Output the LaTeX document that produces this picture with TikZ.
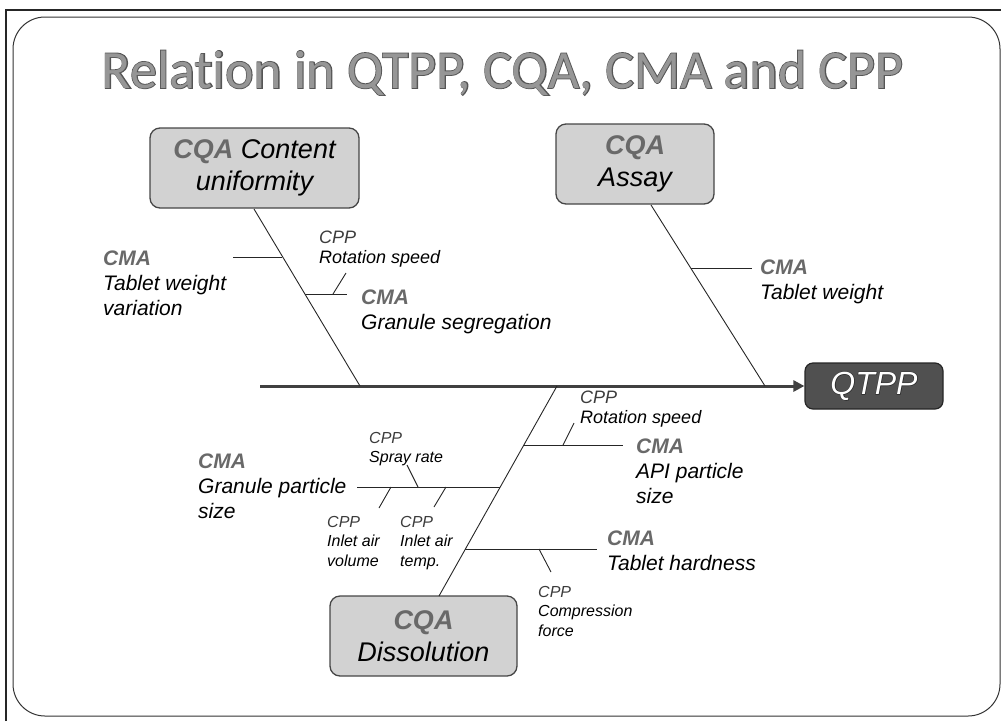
\documentclass[tikz,border=0pt]{standalone}
\usepackage{fontspec}
\setmainfont{Liberation Sans}
\newfontfamily\titlefont[Ligatures=NoCommon]{Carlito}
\newfontfamily\titleedge[Ligatures=NoCommon,FakeBold=3]{Carlito}
\newfontfamily\qtppedge[FakeBold=3]{Liberation Sans}
\usetikzlibrary{arrows.meta}

\definecolor{tagtext}{RGB}{105,105,105}
\definecolor{cpptext}{RGB}{60,60,60}
\definecolor{titlegray}{RGB}{150,150,150}
\definecolor{titleline}{RGB}{85,85,85}
\definecolor{boxfill}{RGB}{210,210,210}
\definecolor{boxedge}{RGB}{70,70,70}
\definecolor{qtppfill}{RGB}{80,80,80}

\newcommand{\cmatag}{{\bfseries\color{tagtext}CMA}}
\newcommand{\cqatag}{{\bfseries\color{tagtext}CQA}}
\newcommand{\cpptag}{{\color{cpptext}CPP}}

\tikzset{
  cmalbl/.style={anchor=north west, inner sep=0pt, align=left,
    font=\fontsize{21}{25}\selectfont\itshape},
  cppbig/.style={anchor=north west, inner sep=0pt, align=left,
    font=\fontsize{18}{20}\selectfont\itshape},
  cppsmall/.style={anchor=north west, inner sep=0pt, align=left,
    font=\fontsize{16}{19.5}\selectfont\itshape},
  cqabox/.style={draw=boxedge, line width=1.3pt, fill=boxfill,
    rounded corners=10pt, align=center, inner sep=0pt,
    font=\fontsize{27}{32}\selectfont\itshape},
  bone/.style={line width=0.9pt, black!85},
  spine/.style={line width=3pt, black!75,
    -{Triangle[length=11pt,width=11pt]}},
  titletext/.style={anchor=base, inner sep=0pt},
}

\begin{document}
\begin{tikzpicture}[x=1pt,y=-1pt]
\useasboundingbox (0,0) rectangle (1001,721);
\begin{scope}
\clip (0,0) rectangle (1001,721);
% slide frame
\draw[line width=2pt, black!85] (6,721) -- (6,10) -- (1001,10);
\draw[line width=1pt, black!80, rounded corners=32pt] (13,17) rectangle (1000,716);
\end{scope}

% title: a dark emboldened copy underneath gives the outlined letters
\node[titletext, text=titleline,
  font=\titleedge\fontsize{54}{60}\selectfont] (titleEdge) at (502.5,88)
  {Relation in QTPP, CQA, CMA and CPP};
\node[titletext, text=titlegray,
  font=\titlefont\fontsize{54}{60}\selectfont] (title) at (502.5,88)
  {Relation in QTPP, CQA, CMA and CPP};

% the four boxes
\node[cqabox, minimum width=209pt, minimum height=80pt] (cu) at (254.5,168)
  {\cqatag{} Content\\uniformity};
\node[cqabox, minimum width=158pt, minimum height=80pt] (assay) at (635,164)
  {\cqatag\\Assay};
\node[cqabox, minimum width=187pt, minimum height=80pt] (diss) at (423.5,636)
  {\cqatag\\Dissolution};
\node[draw=black!85, line width=1.2pt, fill=qtppfill, rounded corners=8pt,
  minimum width=138pt, minimum height=46pt, inner sep=0pt, text=black!85,
  font=\qtppedge\fontsize{32}{34}\selectfont\itshape] (qtpp) at (874,386) {QTPP};
\node[inner sep=0pt, text=white,
  font=\fontsize{32}{34}\selectfont\itshape] (qtppText) at (qtpp.center) {QTPP};

% spine
\coordinate (tail) at (260,386);
\draw[spine] (tail) -- (qtpp.west);

% main bones
\coordinate (cuTop) at (254,209);
\coordinate (cuFoot) at (360,386);
\coordinate (asTop) at (651,205);
\coordinate (asFoot) at (765,386);
\coordinate (dsFoot) at (557,386);
\coordinate (dsEnd) at (439,596);
\draw[bone] (cuTop) -- (cuFoot);
\draw[bone] (asTop) -- (asFoot);
\draw[bone] (dsFoot) -- (dsEnd);

% content uniformity branches
\coordinate (j1) at (282.3,257);
\coordinate (e1) at (233,257);
\draw[bone] (j1) -- (e1);
\coordinate (j2) at (304.6,294);
\coordinate (e2) at (347,294);
\draw[bone] (j2) -- (e2);
\coordinate (t2a) at (333,294);
\coordinate (t2b) at (346,273);
\draw[bone] (t2a) -- (t2b);

% assay branch
\coordinate (j3) at (691,268);
\coordinate (e3) at (752,268);
\draw[bone] (j3) -- (e3);

% dissolution branches
\coordinate (j4) at (523.8,445);
\coordinate (e4) at (623,445);
\draw[bone] (j4) -- (e4);
\coordinate (t4a) at (563,445);
\coordinate (t4b) at (574,423);
\draw[bone] (t4a) -- (t4b);

\coordinate (j5) at (500.2,487);
\coordinate (e5) at (357,487);
\draw[bone] (j5) -- (e5);
\coordinate (t5a) at (418,487);
\coordinate (t5b) at (407,465);
\draw[bone] (t5a) -- (t5b);
\coordinate (t6a) at (391,487);
\coordinate (t6b) at (379,508);
\draw[bone] (t6a) -- (t6b);
\coordinate (t7a) at (446,487);
\coordinate (t7b) at (434,507);
\draw[bone] (t7a) -- (t7b);

\coordinate (j8) at (465.4,549);
\coordinate (e8) at (597,549);
\draw[bone] (j8) -- (e8);
\coordinate (t8a) at (539,549);
\coordinate (t8b) at (551,572);
\draw[bone] (t8a) -- (t8b);

% labels
\node[cmalbl] (lTwv) at (103,251) {\cmatag\\Tablet weight\\variation};
\node[cppbig] (lRot1) at (319,231) {\cpptag\\Rotation speed};
\node[cmalbl] (lSeg) at (361,290) {\cmatag\\Granule segregation};
\node[cmalbl] (lTw) at (760,260) {\cmatag\\Tablet weight};
\node[cppbig] (lRot2) at (580,391) {\cpptag\\Rotation speed};
\node[cmalbl] (lApi) at (636,439) {\cmatag\\API particle\\size};
\node[cmalbl] (lGps) at (198,454) {\cmatag\\Granule particle\\size};
\node[cppsmall] (lSpray) at (369,432) {\cpptag\\Spray rate};
\node[cppsmall] (lVol) at (327,516) {\cpptag\\Inlet air\\volume};
\node[cppsmall] (lTemp) at (400,516) {\cpptag\\Inlet air\\temp.};
\node[cmalbl] (lHard) at (607,531) {\cmatag\\Tablet hardness};
\node[cppsmall] (lComp) at (538,586) {\cpptag\\Compression\\force};
\end{tikzpicture}
\end{document}
